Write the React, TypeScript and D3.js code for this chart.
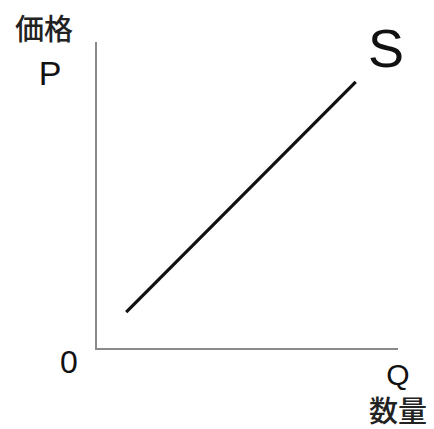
import * as d3 from 'd3'

// supply curve endpoints (quantity, price)
const supplyQ = [1.0, 8.6]
const supplyP = [1.2, 8.7]
const curveLabel = 'S'
const yTitle = '価格'
const yLetter = 'P'
const xLetter = 'Q'
const xTitle = '数量'
const originLabel = '0'

export default function App() {
  const width = 434
  const height = 429

  const x = d3.scaleLinear().domain([0, 10]).range([96, 398])
  const y = d3.scaleLinear().domain([0, 10]).range([349, 42])

  const pts: [number, number][] = supplyQ.map((q, i) => [q, supplyP[i]])
  const line = d3.line<[number, number]>()
    .x(d => x(d[0]))
    .y(d => y(d[1]))

  const font = '"Liberation Sans", Arial, sans-serif'
  const cjk = '"Noto Sans CJK JP", sans-serif'

  return (
    <svg width={width} height={height}
      style={{ position: 'absolute', left: 0, top: 0, background: '#fff' }}>
      {/* axes */}
      <path d={`M${x(0)},${y(10)}V${y(0)}H${x(10)}`}
        fill="none" stroke="#8a8a8a" strokeWidth={2} />
      <path d={line(pts) ?? ''} fill="none" stroke="#111" strokeWidth={3.2} />

      <text x={386} y={67} fontFamily={font} fontSize={54}
        textAnchor="middle" fill="#111">{curveLabel}</text>
      <text x={44} y={40} fontFamily={cjk} fontSize={29} fontWeight={500}
        textAnchor="middle" fill="#222">{yTitle}</text>
      <text x={50} y={85} fontFamily={font} fontSize={34}
        textAnchor="middle" fill="#111">{yLetter}</text>
      <text x={69} y={373} fontFamily={font} fontSize={32}
        textAnchor="middle" fill="#111">{originLabel}</text>
      <text x={398} y={385} fontFamily={font} fontSize={30}
        textAnchor="middle" fill="#111">{xLetter}</text>
      <text x={398} y={422} fontFamily={cjk} fontSize={29} fontWeight={500}
        textAnchor="middle" fill="#222">{xTitle}</text>
    </svg>
  )
}
